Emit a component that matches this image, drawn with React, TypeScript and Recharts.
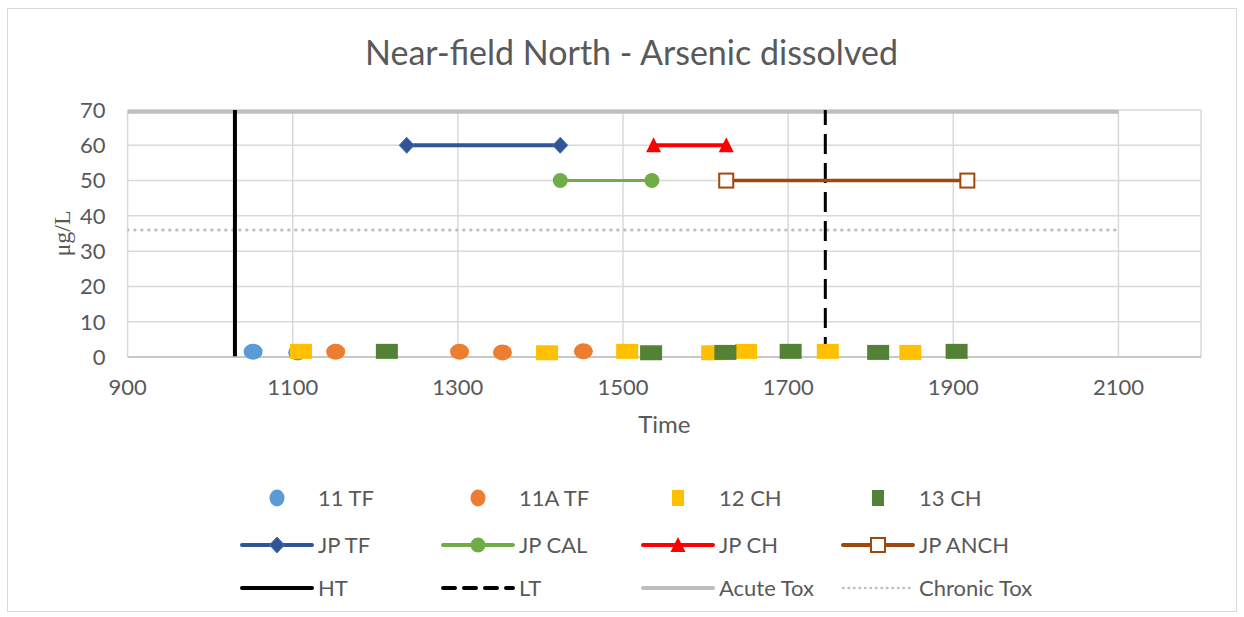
import React from 'react';
import { ComposedChart, Line, Scatter, XAxis, YAxis, CartesianGrid, Label } from 'recharts';

// sample results (time, µg/L)
const tf11 = [
  { x: 1052, y: 1.5 },
  { x: 1106, y: 1.3 },
];
const tf11a = [
  { x: 1152, y: 1.5 },
  { x: 1302, y: 1.5 },
  { x: 1354, y: 1.3 },
  { x: 1452, y: 1.6 },
];
const ch12 = [
  { x: 1110, y: 1.6 },
  { x: 1408, y: 1.2 },
  { x: 1505, y: 1.6 },
  { x: 1608, y: 1.2 },
  { x: 1649, y: 1.6 },
  { x: 1748, y: 1.6 },
  { x: 1848, y: 1.3 },
];
const ch13 = [
  { x: 1214, y: 1.6 },
  { x: 1534, y: 1.2 },
  { x: 1624, y: 1.3 },
  { x: 1703, y: 1.6 },
  { x: 1809, y: 1.3 },
  { x: 1904, y: 1.6 },
];

// job periods
const jpTF = [
  { x: 1238, y: 60 },
  { x: 1424, y: 60 },
];
const jpCAL = [
  { x: 1424, y: 50 },
  { x: 1535, y: 50 },
];
const jpCH = [
  { x: 1537, y: 60 },
  { x: 1625, y: 60 },
];
const jpANCH = [
  { x: 1625, y: 50 },
  { x: 1917, y: 50 },
];

// tides and thresholds
const ht = [
  { x: 1030, y: 0 },
  { x: 1030, y: 70 },
];
const lt = [
  { x: 1745, y: 0 },
  { x: 1745, y: 70 },
];
const acuteTox = [
  { x: 900, y: 69.5 },
  { x: 2100, y: 69.5 },
];
const chronicTox = [
  { x: 900, y: 36 },
  { x: 2100, y: 36 },
];

const xTicks = [900, 1100, 1300, 1500, 1700, 1900, 2100];
const yTicks = [0, 10, 20, 30, 40, 50, 60, 70];

const FONT = 'Lato, "Open Sans", sans-serif';
const TEXT = '#595959';

const ellipse = (fill: string) => (p: any) => (
  <ellipse cx={p.cx} cy={p.cy} rx={9.5} ry={8} fill={fill} />
);
const square = (fill: string) => (p: any) => (
  <rect x={p.cx - 11} y={p.cy - 7.5} width={22} height={15} fill={fill} />
);

const diamondDot = (p: any) => (
  <path key={p.index} d={`M${p.cx},${p.cy - 8}L${p.cx + 7.5},${p.cy}L${p.cx},${p.cy + 8}L${p.cx - 7.5},${p.cy}Z`} fill="#2F5597" stroke="#4472C4" strokeWidth={1} />
);
const circleDot = (p: any) => <circle key={p.index} cx={p.cx} cy={p.cy} r={7.5} fill="#70AD47" />;
const triangleDot = (p: any) => (
  <path key={p.index} d={`M${p.cx},${p.cy - 8}L${p.cx + 7.5},${p.cy + 7}L${p.cx - 7.5},${p.cy + 7}Z`} fill="#FF0000" />
);
const openSquareDot = (p: any) => (
  <rect key={p.index} x={p.cx - 7} y={p.cy - 7} width={14} height={14} fill="#fff" stroke="#9E480E" strokeWidth={2} />
);

const legendRows = [
  [
    { name: '11 TF', kind: 'ellipse', color: '#5B9BD5' },
    { name: '11A TF', kind: 'ellipse', color: '#ED7D31' },
    { name: '12 CH', kind: 'square', color: '#FFC000' },
    { name: '13 CH', kind: 'square', color: '#548235' },
  ],
  [
    { name: 'JP TF', kind: 'diamond', color: '#2F5597' },
    { name: 'JP CAL', kind: 'circle', color: '#70AD47' },
    { name: 'JP CH', kind: 'triangle', color: '#FF0000' },
    { name: 'JP ANCH', kind: 'opensq', color: '#9E480E' },
  ],
  [
    { name: 'HT', kind: 'solid', color: '#000' },
    { name: 'LT', kind: 'dash', color: '#000' },
    { name: 'Acute Tox', kind: 'solid', color: '#BFBFBF' },
    { name: 'Chronic Tox', kind: 'dot', color: '#BFBFBF' },
  ],
];
const legendCols = [242, 443, 643, 843];
const legendY = [498, 545, 588];

function LegendItem({ item, x, y }: any) {
  const mx = x + 35;
  let mark: React.ReactNode = null;
  if (item.kind === 'ellipse' || item.kind === 'square') {
    mark =
      item.kind === 'ellipse' ? (
        <ellipse cx={mx} cy={y} rx={7.5} ry={8.5} fill={item.color} />
      ) : (
        <rect x={mx - 6} y={y - 8} width={12} height={16} fill={item.color} />
      );
  } else {
    const dash = item.kind === 'dash' ? '12 9' : item.kind === 'dot' ? '0.5 5' : undefined;
    const w = item.kind === 'dot' ? 2.5 : 4;
    mark = (
      <g>
        <line x1={x} y1={y} x2={x + 70} y2={y} stroke={item.color} strokeWidth={w} strokeDasharray={dash} strokeLinecap="round" />
        {item.kind === 'diamond' && diamondDot({ cx: mx, cy: y })}
        {item.kind === 'circle' && circleDot({ cx: mx, cy: y })}
        {item.kind === 'triangle' && triangleDot({ cx: mx, cy: y })}
        {item.kind === 'opensq' && openSquareDot({ cx: mx, cy: y })}
      </g>
    );
  }
  return (
    <g>
      {mark}
      <text x={x + 76} y={y} dy="0.36em" fontSize={22} fill={TEXT} fontFamily={FONT}>
        {item.name}
      </text>
    </g>
  );
}

const YLabel = (props: any) => {
  const { viewBox } = props;
  const cx = 62;
  const cy = viewBox.y + viewBox.height / 2;
  return (
    <text x={cx} y={cy} transform={`rotate(-90 ${cx} ${cy})`} textAnchor="middle" dominantBaseline="central" fontSize={24} fill={TEXT} fontFamily='"Liberation Serif", serif'>
      μg/L
    </text>
  );
};

export default function App() {
  return (
    <div style={{ position: 'absolute', left: 0, top: 0, width: 1244, height: 617, background: '#fff' }}>
      <div style={{ position: 'absolute', left: 7, top: 8, width: 1228, height: 602, border: '1px solid #D9D9D9' }} />
      <div style={{ position: 'absolute', left: 0, top: 31, width: 1263, textAlign: 'center', fontFamily: FONT, fontSize: 34, color: TEXT }}>
        Near-field North - Arsenic dissolved
      </div>
      <div style={{ position: 'absolute', left: 0, top: 0 }}>
        <ComposedChart width={1244} height={617} margin={{ top: 110, right: 43, left: 47.6, bottom: 230 }}>
          <CartesianGrid stroke="#D9D9D9" strokeWidth={1.5} />
          <XAxis
            type="number"
            dataKey="x"
            domain={[900, 2200]}
            ticks={xTicks}
            allowDataOverflow
            height={30}
            tickLine={false}
            tickMargin={16}
            stroke="#BFBFBF"
            strokeWidth={1.5}
            tick={{ fill: TEXT, fontSize: 22, fontFamily: FONT }}
          >
            <Label value="Time" position="bottom" offset={29} style={{ fill: TEXT, fontSize: 24, fontFamily: FONT }} />
          </XAxis>
          <YAxis
            type="number"
            domain={[0, 70]}
            ticks={yTicks}
            width={80}
            axisLine={false}
            tickLine={false}
            tickMargin={16}
            tick={{ fill: TEXT, fontSize: 22, fontFamily: FONT }}
          >
            <Label content={YLabel} />
          </YAxis>
          <Line data={chronicTox} dataKey="y" stroke="#BFBFBF" strokeWidth={3} strokeDasharray="0.5 6.5" strokeLinecap="round" dot={false} isAnimationActive={false} />
          <Line data={acuteTox} dataKey="y" stroke="#BFBFBF" strokeWidth={4} dot={false} isAnimationActive={false} />
          <Line data={ht} dataKey="y" stroke="#000" strokeWidth={4} dot={false} isAnimationActive={false} />
          <Line data={lt} dataKey="y" stroke="#000" strokeWidth={3} strokeDasharray="20 9" dot={false} isAnimationActive={false} />
          <Line data={jpTF} dataKey="y" stroke="#2F5597" strokeWidth={4} dot={diamondDot} isAnimationActive={false} />
          <Line data={jpCAL} dataKey="y" stroke="#70AD47" strokeWidth={3} dot={circleDot} isAnimationActive={false} />
          <Line data={jpCH} dataKey="y" stroke="#FF0000" strokeWidth={4} dot={triangleDot} isAnimationActive={false} />
          <Line data={jpANCH} dataKey="y" stroke="#9E480E" strokeWidth={3.5} dot={openSquareDot} isAnimationActive={false} />
          <Scatter data={tf11} dataKey="y" shape={ellipse('#5B9BD5')} isAnimationActive={false} />
          <Scatter data={tf11a} dataKey="y" shape={ellipse('#ED7D31')} isAnimationActive={false} />
          <Scatter data={ch12} dataKey="y" shape={square('#FFC000')} isAnimationActive={false} />
          <Scatter data={ch13} dataKey="y" shape={square('#548235')} isAnimationActive={false} />
        </ComposedChart>
      </div>
      <svg style={{ position: 'absolute', left: 0, top: 0 }} width={1244} height={617}>
        {legendRows.map((row, r) =>
          row.map((item, c) => <LegendItem key={`${r}-${c}`} item={item} x={legendCols[c]} y={legendY[r]} />)
        )}
      </svg>
    </div>
  );
}
